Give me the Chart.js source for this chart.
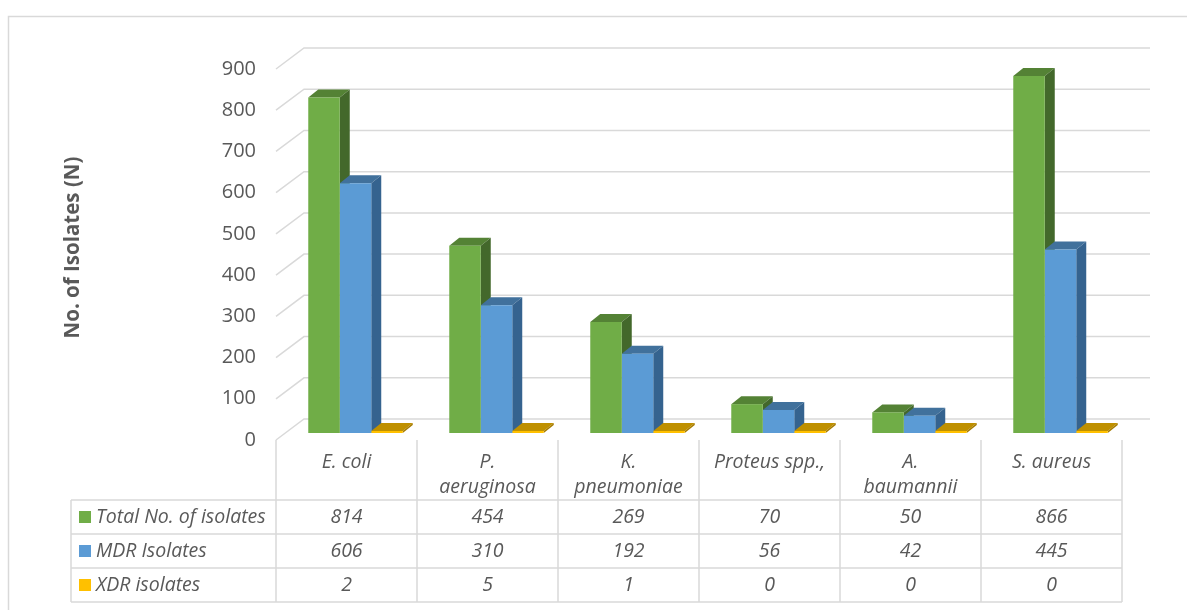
<!DOCTYPE html>
<html>
<head>
<meta charset="utf-8">
<script src="https://cdn.jsdelivr.net/npm/chart.js@4.4.1/dist/chart.umd.min.js"></script>
<style>
  html, body { margin: 0; padding: 0; background: #fff; }
</style>
</head>
<body>
<canvas id="graficoIsolados" width="1187" height="610"></canvas>
<script>
const categorias = ['E. coli', ['P.', 'aeruginosa'], ['K.', 'pneumoniae'], 'Proteus spp.,', ['A.', 'baumannii'], 'S. aureus'];
const totalIsolados = [814, 454, 269, 70, 50, 866];
const mdrIsolados = [606, 310, 192, 56, 42, 445];
const xdrIsolados = [2, 5, 1, 0, 0, 0];
const nomesSeries = ['Total No. of isolates', 'MDR Isolates', 'XDR isolates'];
const ticksY = [0, 100, 200, 300, 400, 500, 600, 700, 800, 900];

// Colours: front, top and side faces of each series
const coresFrente = ['#70AD47', '#5B9BD5', '#FFC000'];
const coresTopo = ['#548235', '#41719C', '#BF9000'];
const coresLado = ['#43682B', '#35638F', '#A67C00'];

const corTexto = '#595959';
const corLinha = '#D9D9D9';
const fonte = '"Open Sans", "Liberation Sans", sans-serif';

// 3D offsets
const PROF_X = 10, PROF_Y = -8;     // bar depth
const FRENTE_X = -9, FRENTE_Y = 7;  // bar plane -> front plane
const PAREDE_X = 28, PAREDE_Y = -21; // front plane -> back wall

// Back wall gridlines with the diagonal at the left
const pluginGrade = {
    id: 'grade3d',
    beforeDatasetsDraw(chart) {
        const { ctx, chartArea, scales } = chart;
        const xEsq = chartArea.left + FRENTE_X;
        const xDir = chartArea.right + FRENTE_X + PAREDE_X;
        ctx.save();
        ctx.strokeStyle = corLinha;
        ctx.lineWidth = 1.5;
        ticksY.forEach(v => {
            const yf = scales.y.getPixelForValue(v) + FRENTE_Y;
            ctx.beginPath();
            ctx.moveTo(xEsq, yf);
            ctx.lineTo(xEsq + PAREDE_X, yf + PAREDE_Y);
            ctx.lineTo(xDir, yf + PAREDE_Y);
            ctx.stroke();
        });
        ctx.restore();

        // Top and side faces of the bars (fronts are drawn by Chart.js afterwards)
        ctx.save();
        chart.data.datasets.forEach((ds, i) => {
            const meta = chart.getDatasetMeta(i);
            meta.data.forEach(bar => {
                const esq = bar.x - bar.width / 2;
                const dir = bar.x + bar.width / 2;
                // top
                ctx.fillStyle = coresTopo[i];
                ctx.beginPath();
                ctx.moveTo(esq, bar.y);
                ctx.lineTo(dir, bar.y);
                ctx.lineTo(dir + PROF_X, bar.y + PROF_Y);
                ctx.lineTo(esq + PROF_X, bar.y + PROF_Y);
                ctx.closePath();
                ctx.fill();
                // side
                ctx.fillStyle = coresLado[i];
                ctx.beginPath();
                ctx.moveTo(dir, bar.y);
                ctx.lineTo(dir + PROF_X, bar.y + PROF_Y);
                ctx.lineTo(dir + PROF_X, bar.base + PROF_Y);
                ctx.lineTo(dir, bar.base);
                ctx.closePath();
                ctx.fill();
            });
        });
        ctx.restore();
    }
};

// Data table under the plot, plus the outer frame
const pluginTabela = {
    id: 'tabela',
    afterDraw(chart) {
        const { ctx, scales } = chart;
        const x = scales.x;
        const larg = x.getPixelForValue(1) - x.getPixelForValue(0);
        const topo = scales.y.getPixelForValue(0) + FRENTE_Y;
        const inicioLinhas = topo + 60;
        const altLinha = 34;
        const fim = inicioLinhas + altLinha * 3;
        const colEsq = (i) => x.getPixelForValue(i) - larg / 2 + FRENTE_X;
        const xLegenda = 71;

        ctx.save();
        ctx.strokeStyle = corLinha;
        ctx.lineWidth = 1.5;

        // outer frame (clipped by the canvas on the right and bottom)
        ctx.strokeRect(8.5, 16.5, 1300, 700);

        ctx.beginPath();
        for (let i = 0; i <= categorias.length; i++) {
            ctx.moveTo(colEsq(i), topo);
            ctx.lineTo(colEsq(i), fim);
        }
        ctx.moveTo(xLegenda, inicioLinhas);
        ctx.lineTo(xLegenda, fim);
        for (let r = 0; r <= 3; r++) {
            ctx.moveTo(xLegenda, inicioLinhas + r * altLinha);
            ctx.lineTo(colEsq(categorias.length), inicioLinhas + r * altLinha);
        }
        ctx.stroke();

        ctx.fillStyle = corTexto;
        ctx.font = 'italic 19.5px ' + fonte;
        ctx.textAlign = 'center';
        ctx.textBaseline = 'middle';

        // category headers
        categorias.forEach((cat, i) => {
            const linhas = Array.isArray(cat) ? cat : [cat];
            const cx = colEsq(i) + larg / 2;
            linhas.forEach((txt, k) => ctx.fillText(txt, cx, topo + 22 + k * 25));
        });

        // series rows
        const series = [totalIsolados, mdrIsolados, xdrIsolados];
        series.forEach((valores, r) => {
            const cy = inicioLinhas + r * altLinha + altLinha / 2;
            ctx.textAlign = 'center';
            ctx.fillStyle = corTexto;
            valores.forEach((v, i) => ctx.fillText(String(v), colEsq(i) + larg / 2, cy));
            ctx.fillStyle = coresFrente[r];
            ctx.fillRect(79, cy - 6, 12, 12);
            ctx.fillStyle = corTexto;
            ctx.textAlign = 'left';
            ctx.fillText(nomesSeries[r], 96, cy);
        });
        ctx.restore();
    }
};

const ctxIsolados = document.getElementById('graficoIsolados').getContext('2d');

const graficoIsolados = new Chart(ctxIsolados, {
    type: 'bar',
    data: {
        labels: categorias,
        datasets: [
            { label: nomesSeries[0], data: totalIsolados, backgroundColor: coresFrente[0] },
            { label: nomesSeries[1], data: mdrIsolados, backgroundColor: coresFrente[1] },
            { label: nomesSeries[2], data: xdrIsolados, backgroundColor: coresFrente[2], minBarLength: 2 }
        ]
    },
    options: {
        responsive: false,
        animation: false,
        borderWidth: 0,
        datasets: {
            bar: { barPercentage: 1, categoryPercentage: 0.67 }
        },
        layout: {
            padding: { top: 62, bottom: 177, left: 0, right: 56 }
        },
        scales: {
            x: { display: false },
            y: {
                min: 0,
                max: 900,
                afterFit: (escala) => { escala.width = 285; },
                afterBuildTicks: (escala) => { escala.ticks = ticksY.map(v => ({ value: v })); },
                grid: { display: false, drawTicks: false },
                border: { display: false },
                ticks: {
                    color: corTexto,
                    font: { family: fonte, size: 20 },
                    padding: 29,
                    labelOffset: 7
                },
                title: {
                    display: true,
                    text: 'No. of Isolates (N)',
                    color: corTexto,
                    font: { family: fonte, size: 20.5, weight: 'bold' },
                    padding: { top: 61, bottom: 0 }
                }
            }
        },
        plugins: {
            legend: { display: false },
            tooltip: { enabled: false }
        }
    },
    plugins: [pluginGrade, pluginTabela]
});
</script>
</body>
</html>
